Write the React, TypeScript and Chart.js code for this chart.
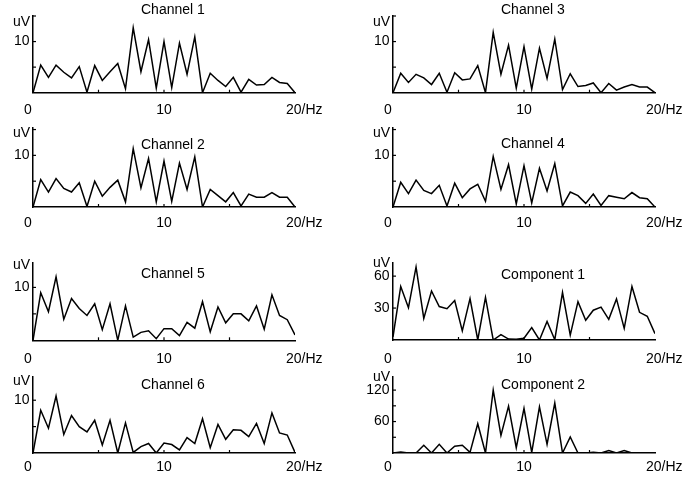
import React, { useEffect, useRef } from "react";
import { Chart, registerables } from "chart.js";

Chart.register(...registerables);

const W = 686;
const H = 477;

// frequency bins in Hz (about 0.588 Hz apart)
const freqs = [
  0, 0.59, 1.18, 1.76, 2.35, 2.94, 3.53, 4.12, 4.71, 5.29, 5.88, 6.47, 7.06, 7.65, 8.24, 8.82, 9.41, 10,
  10.59, 11.18, 11.76, 12.35, 12.94, 13.53, 14.12, 14.71, 15.29, 15.88, 16.47, 17.06, 17.65, 18.24, 18.82,
  19.41, 20,
];

const channel1 = [
  0, 5.4, 3.0, 5.4, 4.0, 2.9, 5.1, 0.1, 5.3, 2.4, 4.1, 5.7, 0.8, 12.7, 4.1, 10.4, 0.9, 10.0, 1.0, 9.7,
  3.6, 10.9, 0, 3.8, 2.4, 1.2, 3.0, 0.1, 2.6, 1.5, 1.6, 3.0, 2.0, 1.8, 0,
];
const channel2 = [
  0, 5.3, 2.9, 5.5, 3.6, 2.9, 4.7, 0.1, 5.0, 2.1, 3.8, 5.2, 1.0, 11.3, 3.7, 9.4, 1.0, 8.9, 1.1, 8.5,
  3.4, 9.7, 0, 3.4, 2.2, 1.0, 2.8, 0.2, 2.5, 1.9, 1.9, 2.8, 1.9, 1.9, 0,
];
const channel3 = [
  0, 3.8, 2.0, 3.6, 2.9, 1.6, 3.8, 0.1, 3.9, 2.5, 2.7, 5.3, 0, 11.8, 3.6, 9.3, 0.9, 9.0, 0.7, 8.7,
  2.8, 10.5, 0.6, 3.7, 1.2, 1.4, 1.9, 0, 1.8, 0.5, 1.1, 1.6, 1.1, 1.1, 0,
];
const channel4 = [
  0, 4.8, 2.6, 5.2, 3.2, 2.6, 4.2, 0.2, 4.6, 1.8, 3.5, 4.4, 1.1, 9.8, 3.4, 8.2, 0.6, 8.0, 0.8, 7.5,
  3.1, 8.4, 0.2, 2.9, 2.2, 0.7, 2.5, 0.3, 2.2, 1.9, 1.6, 2.8, 1.8, 1.6, 0,
];
const channel5 = [
  0, 9.0, 5.4, 12.0, 4.0, 7.9, 6.0, 4.7, 6.9, 2.0, 6.9, 0, 6.5, 0.6, 1.5, 1.8, 0.3, 2.2, 2.2, 0.9,
  3.4, 2.3, 7.3, 1.6, 6.3, 3.3, 5.0, 5.0, 3.7, 6.5, 2.1, 8.6, 4.7, 3.9, 1.0,
];
const channel6 = [
  0, 8.1, 4.7, 10.8, 3.5, 7.1, 5.0, 4.0, 6.2, 1.5, 6.2, 0, 5.7, 0.1, 1.2, 1.8, 0, 1.9, 1.6, 0.6,
  2.9, 1.8, 6.5, 1.0, 5.4, 2.6, 4.4, 4.3, 3.1, 5.6, 1.8, 7.6, 3.8, 3.4, 0.1,
];
const component1 = [
  3, 50.3, 30.3, 68.6, 20.3, 46, 31.4, 29.4, 37.1, 8.6, 38.9, 0, 40, 0, 5.1, 0.9, 0.6, 1.7, 11.7, 0,
  17.4, 0.3, 44.6, 4.6, 36, 18.6, 28, 30.9, 19.4, 38.6, 10.9, 50.3, 26, 22.3, 6,
];
const component2 = [
  0, 1.8, 0, 0, 14.7, 0, 16.5, 0, 12.9, 14.7, 1.2, 55.9, 0, 120, 33.5, 89.4, 10, 85.3, 1.2, 88.2,
  16.5, 95.3, 0, 30.6, 0, 0, 1.2, 0, 4.7, 0, 4.7, 0, 0, 0, 0,
];

const xTicks = [5, 10, 15];
const xLabels = [0, 10, 20];

type Spec = { title: string; values: number[]; yMax: number; yTicks: number[]; yLabels: number[] };

const specs: Spec[] = [
  { title: "Channel 1", values: channel1, yMax: 15, yTicks: [5, 10, 15], yLabels: [10] },
  { title: "Channel 3", values: channel3, yMax: 15, yTicks: [5, 10, 15], yLabels: [10] },
  { title: "Channel 2", values: channel2, yMax: 15.3, yTicks: [5, 10, 15], yLabels: [10] },
  { title: "Channel 4", values: channel4, yMax: 15.3, yTicks: [5, 10, 15], yLabels: [10] },
  { title: "Channel 5", values: channel5, yMax: 14.75, yTicks: [5, 10], yLabels: [10] },
  { title: "Component 1", values: component1, yMax: 73, yTicks: [30, 60], yLabels: [30, 60] },
  { title: "Channel 6", values: channel6, yMax: 14.4, yTicks: [5, 10], yLabels: [10] },
  { title: "Component 2", values: component2, yMax: 145, yTicks: [30, 60, 90, 120], yLabels: [60, 120] },
];

// plot boxes [left, top, right, bottom] and text rows, in page pixels
type Layout = { box: number[]; titleY: number; uvY: number; xLabelY: number };
const layouts: Layout[] = [
  { box: [25, 16, 295, 100.7], titleY: 10, uvY: 22, xLabelY: 110 },
  { box: [385, 16, 655, 100.7], titleY: 10, uvY: 22, xLabelY: 110 },
  { box: [25, 128, 295, 215], titleY: 145, uvY: 133, xLabelY: 223 },
  { box: [385, 128, 655, 215], titleY: 144.5, uvY: 133, xLabelY: 223 },
  { box: [25, 262.3, 295, 348.3], titleY: 274, uvY: 265, xLabelY: 359.5 },
  { box: [385, 262.3, 655, 348], titleY: 275, uvY: 263, xLabelY: 359.5 },
  { box: [25, 377, 295, 461], titleY: 385, uvY: 381, xLabelY: 467.5 },
  { box: [385, 377, 655, 461], titleY: 385, uvY: 377, xLabelY: 467.5 },
];

const FONT = '"Liberation Sans", Arial, sans-serif';

function makeDecor(spec: Spec, lay: Layout) {
  return {
    id: "decor",
    afterDraw(chart: any) {
      const { ctx, chartArea, scales } = chart;
      const xs = scales.x;
      const ys = scales.y;
      ctx.save();
      ctx.strokeStyle = "#000";
      ctx.lineWidth = 1.2;
      // inward tick marks
      for (const v of xTicks) {
        const px = xs.getPixelForValue(v);
        ctx.beginPath();
        ctx.moveTo(px, chartArea.bottom);
        ctx.lineTo(px, chartArea.bottom - 3);
        ctx.stroke();
      }
      for (const v of spec.yTicks) {
        const py = ys.getPixelForValue(v);
        ctx.beginPath();
        ctx.moveTo(chartArea.left, py);
        ctx.lineTo(chartArea.left + 3, py);
        ctx.stroke();
      }
      ctx.fillStyle = "#000";
      ctx.textBaseline = "middle";
      ctx.font = `14px ${FONT}`;
      ctx.textAlign = "right";
      for (const v of spec.yLabels) {
        ctx.fillText(String(v), chartArea.left - 3.5, ys.getPixelForValue(v));
      }
      ctx.fillText("uV", chartArea.left - 3, lay.uvY);
      for (const v of xLabels) {
        const px = xs.getPixelForValue(v);
        if (v === 0) {
          ctx.textAlign = "center";
          ctx.fillText("0", px - 5, lay.xLabelY);
        } else if (v === 20) {
          ctx.textAlign = "left";
          ctx.fillText("20/Hz", px - 9, lay.xLabelY);
        } else {
          ctx.textAlign = "center";
          ctx.fillText(String(v), px, lay.xLabelY);
        }
      }
      ctx.textAlign = "left";
      ctx.fillText(spec.title, chartArea.left + 108, lay.titleY);
      ctx.restore();
    },
  };
}

function Panel({ spec, lay }: { spec: Spec; lay: Layout }) {
  const canvasRef = useRef<HTMLCanvasElement>(null);

  useEffect(() => {
    const canvas = canvasRef.current;
    if (!canvas) return;
    const [l, t, r, b] = lay.box;
    const axis = {
      type: "linear" as const,
      ticks: { display: false },
      grid: { display: false },
      border: { display: true, color: "#000", width: 1.5 },
    };
    const chart = new Chart(canvas, {
      type: "line",
      data: {
        datasets: [
          {
            data: freqs.map((f, i) => ({ x: f, y: spec.values[i] })),
            borderColor: "#000",
            borderWidth: 1.5,
            pointRadius: 0,
            tension: 0,
            fill: false,
          },
        ],
      },
      options: {
        responsive: false,
        animation: false,
        events: [],
        layout: { padding: { left: l, top: t, right: W - r, bottom: H - b } },
        plugins: { legend: { display: false }, tooltip: { enabled: false } },
        scales: {
          x: { ...axis, min: 0, max: 20 },
          y: { ...axis, min: 0, max: spec.yMax },
        },
      },
      plugins: [makeDecor(spec, lay)],
    });
    return () => chart.destroy();
  }, [spec, lay]);

  return (
    <canvas
      ref={canvasRef}
      width={W}
      height={H}
      style={{ position: "absolute", left: 0, top: 0, width: W, height: H }}
    />
  );
}

export default function App() {
  return (
    <div style={{ position: "absolute", left: 0, top: 0, width: W, height: H, background: "#fff", overflow: "hidden" }}>
      {specs.map((s, i) => (
        <Panel key={s.title} spec={s} lay={layouts[i]} />
      ))}
    </div>
  );
}
